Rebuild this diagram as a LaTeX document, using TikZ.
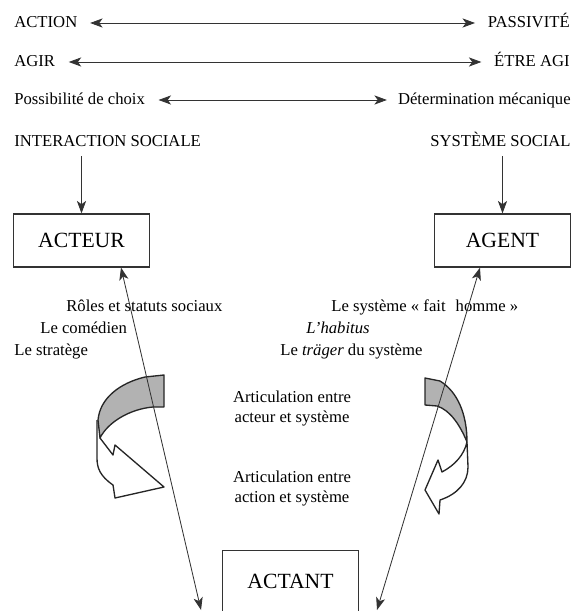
\documentclass[tikz,border=0pt]{standalone}
\usepackage{fontspec}
\setmainfont{Liberation Serif}
\usetikzlibrary{arrows.meta,positioning}

\begin{document}
\begin{tikzpicture}[
    x=0.6pt, y=-0.6pt,
    font=\fontsize{10}{12}\selectfont,
    lbl/.style={inner sep=0pt, anchor=west, text height=7pt, text depth=2pt},
    rlbl/.style={inner sep=0pt, anchor=east, text height=7pt, text depth=2pt},
    mid/.style={inner sep=0pt, align=center},
    box/.style={rectangle, draw=black!80, line width=0.7pt, minimum width=82pt, minimum height=31.8pt, font=\fontsize{13}{15}\selectfont},
    arrow/.style={draw=black!80, line width=0.5pt, {Stealth[length=7.5pt,width=5.5pt,inset=2pt]}-{Stealth[length=7.5pt,width=5.5pt,inset=2pt]}},
    downarrow/.style={draw=black!80, line width=0.5pt, -{Stealth[length=7.5pt,width=5.5pt,inset=2pt]}},
    band/.style={draw=black!85, line width=0.8pt, line join=round}
]
\useasboundingbox (0,0) rectangle (574,611);
\clip (0,0) rectangle (574,611);

% Nodes
\node (action) [lbl] at (14,23) {ACTION};
\node (passivite) [rlbl] at (570,23) {PASSIVITÉ};
\node (agir) [lbl] at (14,62) {AGIR};
\node (etreagi) [rlbl] at (570,62) {ÉTRE AGI};
\node (choix) [lbl] at (14,100) {Possibilité de choix};
\node (determination) [rlbl] at (571,100) {Détermination mécanique};
\node (interaction) [lbl] at (14,142) {INTERACTION SOCIALE};
\node (systeme) [rlbl] at (571,142) {SYSTÈME SOCIAL};

\node (acteur) [box] at (81.5,240.5) {ACTEUR};
\node (agent) [box] at (502.5,240.5) {AGENT};
\node (actant) [box, minimum height=37pt] at (290.5,581) {ACTANT};

\node (roles) [lbl] at (66,307) {Rôles et statuts sociaux};
\node (comedien) [lbl] at (40,329) {Le comédien};
\node (stratege) [lbl] at (14,351) {Le stratège};
\node (faithomme) [lbl] at (331,307) {Le système «~fait\hspace{0.6em}homme~»};
\node (habitus) [lbl] at (306,329) {\textit{L'habitus}};
\node (trager) [lbl] at (280,351) {Le \textit{träger} du système};

\node (artacteur) [mid] at (292,409) {Articulation entre\\acteur et système};
\node (artaction) [mid, below=26pt of artacteur] {Articulation entre\\action et système};

\coordinate (leftend) at (201,610);
\coordinate (rightend) at (377,610);

% Curved arrows
\filldraw [band, fill=black!30] (164,375) -- (145,377) .. controls (120,383) and (100,398) .. (98,420)
    -- (100,438) .. controls (108,422) and (130,409) .. (153,407) -- (164,407) -- cycle;
\draw [band] (100,438) -- (113,455) -- (115,445) -- (164,487) -- (115,498) -- (113,485)
    .. controls (100,476) and (97,468) .. (97,458) -- (97,420);
\filldraw [band, fill=black!30] (425,378) -- (440,381) .. controls (458,392) and (467,415) .. (467,442)
    .. controls (460,425) and (450,410) .. (437,406) -- (425,405) -- cycle;
\draw [band] (467,442) -- (468,467) .. controls (468,482) and (458,494) .. (440,500) -- (439,514)
    -- (425,490) -- (438,460) -- (442,472) .. controls (455,465) and (464,455) .. (467,442);

% Arrows
\draw [arrow, shorten <=7.5pt, shorten >=7.5pt] (action) -- (passivite);
\draw [arrow, shorten <=8pt, shorten >=7.5pt] (agir) -- (etreagi);
\draw [arrow, shorten <=8pt, shorten >=6.5pt] (choix) -- (determination);
\draw [downarrow] ([yshift=-4pt]interaction.south -| acteur.north) -- (acteur.north);
\draw [downarrow] ([yshift=-4pt]systeme.south -| agent.north) -- (agent.north);
\draw [arrow] ([xshift=23.7pt]acteur.south) -- (leftend);
\draw [arrow] ([xshift=-13.5pt]agent.south) -- (rightend);

\end{tikzpicture}
\end{document}
